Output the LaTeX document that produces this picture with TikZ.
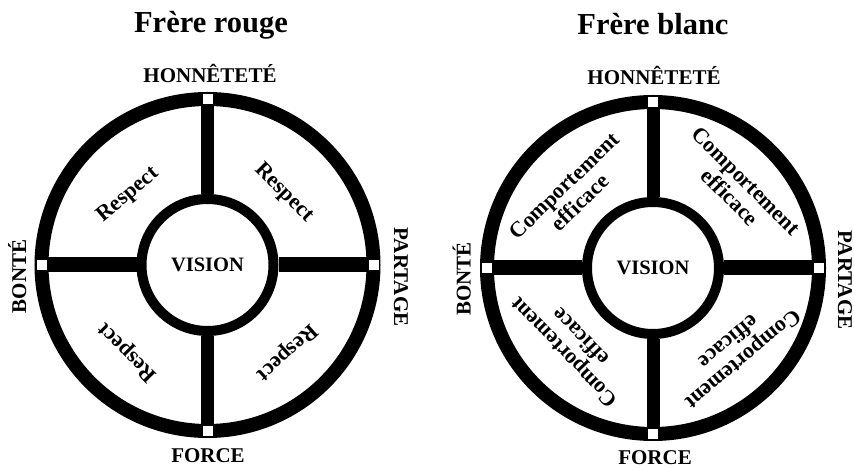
\documentclass[tikz,border=0pt]{standalone}
\usepackage{fontspec}
\setmainfont{Liberation Serif}

\begin{document}
\begin{tikzpicture}[x=1pt, y=1pt,
    wheel/.style={line width=14pt},
    spoke/.style={line width=13pt},
    widespoke/.style={line width=15pt},
    hub/.style={circle, draw, line width=10pt, minimum size=132pt, inner sep=0pt,
        font=\fontsize{20.5}{20}\selectfont\bfseries},
    peg/.style={fill=white, minimum size=10pt, inner sep=0pt},
    title/.style={anchor=base, font=\fontsize{30.5}{30}\selectfont\bfseries},
    cardinal/.style={anchor=base, font=\fontsize{21}{21}\selectfont\bfseries},
    quarter/.style={align=center, font=\fontsize{22}{23}\selectfont\bfseries}]
    \useasboundingbox (0,0) rectangle (854,468);

    \coordinate (cL) at (207.5,203);
    \coordinate (nL) at (207.5,369);
    \coordinate (sL) at (207.5,37);
    \coordinate (wL) at (41.5,203);
    \coordinate (eL) at (373.5,203);

    \coordinate (cR) at (653,200);
    \coordinate (nR) at (653,366);
    \coordinate (sR) at (653,34);
    \coordinate (wR) at (487,200);
    \coordinate (eR) at (819,200);

    \draw[wheel] (cL) circle (166pt);
    \node[hub] (visionL) at (cL) {VISION};
    \draw[spoke] (visionL) -- (nL);
    \draw[spoke] (visionL) -- (sL);
    \draw[widespoke] (visionL) -- (wL);
    \draw[widespoke] (visionL) -- (eL);

    \draw[wheel] (cR) circle (166pt);
    \node[hub] (visionR) at (cR) {VISION};
    \draw[spoke] (visionR) -- (nR);
    \draw[spoke] (visionR) -- (sR);
    \draw[widespoke] (visionR) -- (wR);
    \draw[widespoke] (visionR) -- (eR);

    \node[peg] (pegnL) at (nL) {};
    \node[peg] (pegsL) at (sL) {};
    \node[peg] (pegwL) at (wL) {};
    \node[peg] (pegeL) at (eL) {};
    \node[peg] (pegnR) at (nR) {};
    \node[peg] (pegsR) at (sR) {};
    \node[peg] (pegwR) at (wR) {};
    \node[peg] (pegeR) at (eR) {};

    \node[title] (rouge) at (211,435) {Frère rouge};
    \node[title] (blanc) at (653,433) {Frère blanc};

    \node[cardinal] (honnL) at (210,385) {HONNÊTETÉ};
    \node[cardinal] (forceL) at (208,5) {FORCE};
    \node[cardinal, rotate=90] (bonteL) at (26,191.5) {BONTÉ};
    \node[cardinal, rotate=-90] (partL) at (394,191) {PARTAGE};

    \node[cardinal] (honnR) at (654,383) {HONNÊTETÉ};
    \node[cardinal] (forceR) at (655,3) {FORCE};
    \node[cardinal, rotate=90] (bonteR) at (470.5,189) {BONTÉ};
    \node[cardinal, rotate=-90] (partR) at (838,188) {PARTAGE};

    \node[quarter, rotate=40] (respNW) at (128,273) {Respect};
    \node[quarter, rotate=-45] (respNE) at (284,275) {Respect};
    \node[quarter, rotate=135] (respSW) at (128,116) {Respect};
    \node[quarter, rotate=-138] (respSE) at (287,116) {Respect};

    \node[quarter, rotate=44] (compNW) at (572,274) {Comportement\\efficace};
    \node[quarter, rotate=-45] (compNE) at (738,279) {Comportement\\efficace};
    \node[quarter, rotate=134] (compSW) at (572,123) {Comportement\\efficace};
    \node[quarter, rotate=-140] (compSE) at (736,117) {Comportement\\efficace};
\end{tikzpicture}
\end{document}
